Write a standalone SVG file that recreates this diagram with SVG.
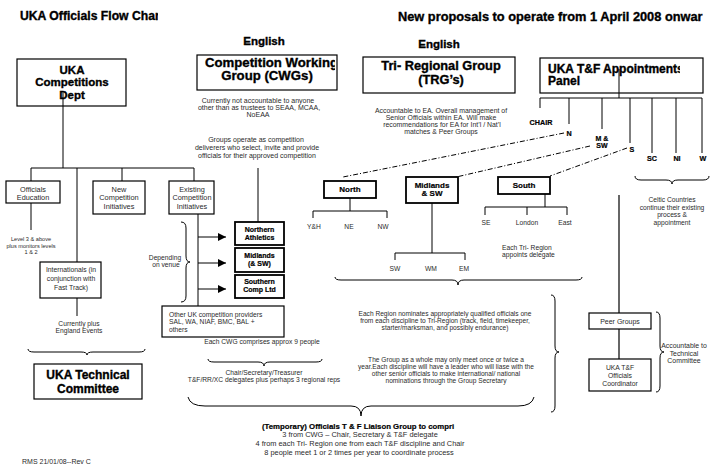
<svg xmlns="http://www.w3.org/2000/svg" width="710" height="467" viewBox="0 0 710 467">
<style>
.t{font-family:"Liberation Sans",Arial,sans-serif;fill:#2a2a2a}
.c{text-anchor:middle}
.h{font-family:"Liberation Sans",Arial,sans-serif;font-weight:bold;fill:#000;stroke:#000;stroke-width:0.35}
.b{font-family:"Liberation Sans",Arial,sans-serif;font-weight:bold;fill:#000;stroke:#000;stroke-width:0.2}
.box{fill:#fff;stroke:#000;stroke-width:1.2}
.tbox{fill:#fff;stroke:#000;stroke-width:1.8}
.ln{fill:none;stroke:#000;stroke-width:1}
.gray{fill:none;stroke:#666;stroke-width:2}
.dd{fill:none;stroke:#000;stroke-width:1;stroke-dasharray:5 2 1 2}
.br{fill:none;stroke:#000;stroke-width:1}
</style>
<defs>
<marker id="ah" viewBox="0 0 8 8" refX="8" refY="4" markerWidth="8" markerHeight="8" markerUnits="userSpaceOnUse" orient="auto"><path d="M0,0 L8,4 L0,8 Z" fill="#000"/></marker>
<clipPath id="c1"><rect x="0" y="0" width="158" height="30"/></clipPath>
<clipPath id="c2"><rect x="390" y="0" width="316" height="30"/></clipPath>
<clipPath id="c3"><rect x="198" y="56" width="137" height="33"/></clipPath>
<clipPath id="c4"><rect x="541" y="59" width="139" height="33"/></clipPath>
<clipPath id="c5"><rect x="200" y="415" width="257" height="18"/></clipPath>
</defs>
<rect width="710" height="467" fill="#fff"/>

<g id="titles">
<text class="h" x="20" y="20" font-size="12.2" clip-path="url(#c1)">UKA Officials Flow Char</text>
<text class="h" x="398" y="20.5" font-size="12.8" clip-path="url(#c2)">New proposals to operate from 1 April 2008 onwar</text>
<text class="h c" x="264" y="45" font-size="11.5">English</text>
<text class="h c" x="439" y="48" font-size="11.5">English</text>
</g>

<g id="connectors">
<path class="ln" d="M63,93 V168 M31,168 H194 M31,168 V181 M77,168 V262 M122,168 V181 M194,168 V181 M31,203 V230 M77,298 V316 M198,214 V306 M258,168 V222"/>
<line class="ln" x1="198" y1="237" x2="226" y2="237" marker-end="url(#ah)"/>
<line class="ln" x1="198" y1="263" x2="226" y2="263" marker-end="url(#ah)"/>
<line class="ln" x1="198" y1="289" x2="226" y2="289" marker-end="url(#ah)"/>
<path class="ln" d="M350,198 V211 M313,218 V211 H387 V218"/>
<path class="ln" d="M432,203 V253 M395,260 V253 H465 V260"/>
<path class="ln" d="M545,194 V207 M485,215 V207 H567 V215 M527,207 V215"/>
<path class="ln" d="M619,69 V98 M540,108 V98 H702 V153 M569,98 V124 M602,98 V129 M630,98 V143 M652,98 V153 M676,98 V153"/>
<path class="gray" d="M619,195 V313 M619,329 V359"/>
<path class="dd" d="M564,133 L343,177"/>
<path class="dd" d="M590,146 L452,178"/>
<path class="dd" d="M627,148 L550,176"/>
</g>

<g id="braces">
<path class="br" d="M28,349 Q28,352 34,352 L81,352 Q87,352 87,355 Q87,352 93,352 L139,352 Q145,352 145,349"/>
<path class="br" d="M208,359 Q208,362 214,362 L258,362 Q264,362 264,366 Q264,362 270,362 L316,362 Q322,362 322,359"/>
<path class="br" d="M188,397 Q190,406 205,406 L351,406 Q361,406 361,416 Q361,406 371,406 L518,406 Q532,406 534,397"/>
<path class="br" d="M335,277 Q335,280 341,280 L452,280 Q458,280 458,285 Q458,280 464,280 L576,280 Q582,280 582,277"/>
<path class="br" d="M635,176 Q635,180 641,180 L666,180 Q672,180 672,184 Q672,180 678,180 L703,180 Q709,180 709,176"/>
<path class="br" d="M181,222 Q186,222 186,228 L186,256 Q186,262 190,262 Q186,262 186,268 L186,296 Q186,302 181,302"/>
<path class="br" d="M551,295 Q555,295 555,301 L555,346 Q555,352 559,352 Q555,352 555,358 L555,406 Q555,412 551,412"/>
<path class="br" d="M656,312 Q660,312 660,318 L660,346 Q660,352 664,352 Q660,352 660,358 L660,386 Q660,392 656,392"/>
</g>

<g id="dept">
<rect class="box" x="17" y="59" width="109" height="47"/>
<text class="h c" x="72" y="74" font-size="11.5">UKA</text>
<text class="h c" x="72" y="86.3" font-size="11.5">Competitions</text>
<text class="h c" x="72" y="98.6" font-size="11.5">Dept</text>
</g>
<path class="ln" d="M63,93 V106"/>

<g id="cwg">
<rect class="box" x="197" y="55" width="140" height="35"/>
<text class="h" x="205" y="66.5" font-size="13.2" clip-path="url(#c3)">Competition Working</text>
<text class="h c" x="267" y="80" font-size="13.2">Group (CWGs)</text>
<text class="t c" font-size="7" x="258" y="103">Currently not accountable to anyone</text>
<text class="t c" font-size="7" x="259" y="110">other than as trustees to SEAA, MCAA,</text>
<text class="t c" font-size="7" x="258" y="117">NoEAA</text>
<text class="t c" font-size="7" x="256" y="141.5">Groups operate as competition</text>
<text class="t c" font-size="7" x="257" y="149.5">deliverers who select, invite and provide</text>
<text class="t c" font-size="7" x="257" y="157.5">officials for their approved competition</text>
</g>

<g id="trg">
<rect class="box" x="363" y="57" width="152" height="36"/>
<text class="h c" x="441" y="70.3" font-size="12.8">Tri- Regional Group</text>
<text class="h c" x="441" y="83.8" font-size="12.8">(TRG’s)</text>
<text class="t c" font-size="6.9" x="441" y="113">Accountable to EA.  Overall management of</text>
<text class="t c" font-size="6.9" x="441" y="120">Senior Officials within EA.  Will make</text>
<text class="t c" font-size="6.9" x="442" y="127">recommendations for EA for Int’l / Nat’l</text>
<text class="t c" font-size="6.9" x="441" y="134">matches &amp; Peer Groups</text>
</g>

<g id="panel">
<rect class="box" x="540" y="58" width="163" height="35"/>
<text class="h" x="548" y="72.5" font-size="12" clip-path="url(#c4)">UKA T&amp;F Appointments</text>
<text class="h" x="548" y="85" font-size="12">Panel</text>
</g>
<path class="ln" d="M619,69 V93"/>

<g id="panel-members">
<text class="b c" x="541" y="125" font-size="7.2">CHAIR</text>
<text class="b c" x="569" y="136" font-size="7.2">N</text>
<text class="b c" x="602" y="140.5" font-size="7">M &amp;</text>
<text class="b c" x="602" y="147.8" font-size="7">SW</text>
<text class="b c" x="632" y="152" font-size="7.2">S</text>
<text class="b c" x="652" y="161" font-size="7.2">SC</text>
<text class="b c" x="677" y="161" font-size="7.2">NI</text>
<text class="b c" x="703" y="161" font-size="7.2">W</text>
<text class="t c" font-size="6.7" x="672" y="202">Celtic Countries</text>
<text class="t c" font-size="6.7" x="672" y="209.5">continue their existing</text>
<text class="t c" font-size="6.7" x="672" y="217">process &amp;</text>
<text class="t c" font-size="6.7" x="672" y="224.5">appointment</text>
</g>

<g id="officials-education">
<rect class="box" x="6" y="181" width="54" height="22"/>
<text class="t c" font-size="7.3" x="33" y="191.5">Officials</text>
<text class="t c" font-size="7.3" x="33" y="199.5">Education</text>
<text class="t c" font-size="5.6" x="31" y="241.3">Level 3 &amp; above</text>
<text class="t c" font-size="5.6" x="31" y="247.5">plus monitors levels</text>
<text class="t c" font-size="5.6" x="31" y="253.8">1 &amp; 2</text>
</g>

<g id="new-competition">
<rect class="box" x="93" y="181" width="52" height="33"/>
<text class="t c" font-size="7.4" x="119" y="191.8">New</text>
<text class="t c" font-size="7.4" x="119" y="200">Competition</text>
<text class="t c" font-size="7.4" x="119" y="208.5">Initiatives</text>
</g>

<g id="existing-competition">
<rect class="box" x="169" y="181" width="45" height="33"/>
<text class="t c" font-size="7.3" x="192" y="191.8">Existing</text>
<text class="t c" font-size="7.3" x="192" y="200">Competition</text>
<text class="t c" font-size="7.3" x="192" y="208.5">Initiatives</text>
<text class="t c" font-size="6.7" x="165" y="259.5">Depending</text>
<text class="t c" font-size="6.7" x="166" y="266.5">on venue</text>
</g>

<g id="internationals">
<rect class="box" x="40" y="262" width="61" height="36"/>
<text class="t c" font-size="6.8" x="71" y="272">Internationals (in</text>
<text class="t c" font-size="6.8" x="71" y="281">conjunction with</text>
<text class="t c" font-size="6.8" x="71" y="289.5">Fast Track)</text>
<text class="t c" font-size="6.7" x="79" y="326">Currently plus</text>
<text class="t c" font-size="6.7" x="79" y="333">England Events</text>
</g>

<g id="northern">
<rect class="tbox" x="235" y="222" width="49" height="23"/>
<text class="b c" x="259.5" y="231.5" font-size="7">Northern</text>
<text class="b c" x="259.5" y="239.5" font-size="7">Athletics</text>
</g>
<g id="midlands-comp">
<rect class="tbox" x="235" y="248" width="49" height="24"/>
<text class="b c" x="259.5" y="257.5" font-size="7">Midlands</text>
<text class="b c" x="259.5" y="265.5" font-size="7">(&amp; SW)</text>
</g>
<g id="southern">
<rect class="tbox" x="235" y="275" width="49" height="23"/>
<text class="b c" x="259.5" y="284" font-size="7">Southern</text>
<text class="b c" x="259.5" y="292" font-size="7">Comp Ltd</text>
</g>

<g id="other-uk">
<rect class="box" x="162" y="306" width="122" height="31"/>
<text class="t" font-size="6.7" x="169" y="316.5">Other UK competition providers</text>
<text class="t" font-size="6.7" x="169" y="324">SAL, WA, NIAF, BMC, BAL +</text>
<text class="t" font-size="6.7" x="169" y="331.5">others</text>
<text class="t c" font-size="6.7" x="262" y="344">Each CWG comprises approx  9 people</text>
<text class="t c" font-size="6.7" x="264" y="375">Chair/Secretary/Treasurer</text>
<text class="t c" font-size="6.7" x="264" y="382">T&amp;F/RR/XC delegates plus perhaps 3 regional reps</text>
</g>

<g id="north">
<rect class="tbox" x="324" y="181" width="52" height="17"/>
<text class="b c" x="350" y="192.3" font-size="8">North</text>
<text class="t c" font-size="6.7" x="314" y="228.5">Y&amp;H</text>
<text class="t c" font-size="6.7" x="349" y="228.5">NE</text>
<text class="t c" font-size="6.7" x="383" y="228.5">NW</text>
</g>

<g id="midlands">
<rect class="tbox" x="406" y="177" width="52" height="26"/>
<text class="b c" x="432" y="188" font-size="8">Midlands</text>
<text class="b c" x="432" y="196.3" font-size="8">&amp; SW</text>
<text class="t c" font-size="6.7" x="395" y="270.5">SW</text>
<text class="t c" font-size="6.7" x="431" y="270.5">WM</text>
<text class="t c" font-size="6.7" x="464" y="270.5">EM</text>
</g>

<g id="south">
<rect class="tbox" x="498" y="177" width="52" height="17"/>
<text class="b c" x="524" y="188.3" font-size="8">South</text>
<text class="t c" font-size="6.7" x="486" y="224.5">SE</text>
<text class="t c" font-size="6.7" x="527" y="224.5">London</text>
<text class="t c" font-size="6.7" x="565" y="224.5">East</text>
<text class="t" font-size="6.7" x="502" y="250">Each Tri- Region</text>
<text class="t" font-size="6.7" x="502" y="257">appoints delegate</text>
</g>

<g id="region-notes">
<text class="t c" font-size="6.6" x="445" y="316">Each Region nominates appropriately qualified officials one</text>
<text class="t c" font-size="6.6" x="445" y="322.8">from each discipline to Tri-Region (track, field, timekeeper,</text>
<text class="t c" font-size="6.6" x="445" y="329.6">starter/marksman, and possibly endurance)</text>
<text class="t c" font-size="6.6" x="446" y="361.5">The Group as a whole may only meet once or twice a</text>
<text class="t c" font-size="6.6" x="446" y="368.5">year.Each discipline will have a leader who will liase with the</text>
<text class="t c" font-size="6.6" x="446" y="375.5">other senior officials to make international/ national</text>
<text class="t c" font-size="6.6" x="446" y="383">nominations through the Group Secretary</text>
</g>

<g id="peer-groups">
<rect class="box" x="589" y="313" width="62" height="16"/>
<text class="t c" font-size="7" x="620" y="324">Peer Groups</text>
</g>
<g id="coordinator">
<rect class="box" x="589" y="359" width="62" height="32"/>
<text class="t c" font-size="6.8" x="620" y="370">UKA T&amp;F</text>
<text class="t c" font-size="6.8" x="620" y="377.5">Officials</text>
<text class="t c" font-size="6.8" x="620" y="385.5">Coordinator</text>
<text class="t c" font-size="6.9" x="684" y="348">Accountable to</text>
<text class="t c" font-size="6.9" x="684" y="355.5">Technical</text>
<text class="t c" font-size="6.9" x="684" y="363">Committee</text>
</g>

<g id="technical-committee">
<rect class="box" x="34" y="364" width="108" height="35"/>
<text class="h c" x="88" y="379" font-size="12">UKA Technical</text>
<text class="h c" x="88" y="392.5" font-size="12">Committee</text>
</g>

<g id="liaison-group">
<text class="b" x="262" y="428.5" font-size="7.8" clip-path="url(#c5)">(Temporary) Officials T &amp; F Liaison Group to compri</text>
<text class="t c" font-size="7.4" x="360" y="436.5">3 from CWG – Chair, Secretary &amp; T&amp;F delegate</text>
<text class="t c" font-size="7.4" x="360" y="446">4 from each Tri- Region one from each T&amp;F discipline and Chair</text>
<text class="t c" font-size="7.4" x="359" y="455">8 people meet 1 or 2 times per year to coordinate process</text>
</g>

<text class="t" font-size="7" x="22" y="464">RMS 21/01/08--Rev C</text>
</svg>
